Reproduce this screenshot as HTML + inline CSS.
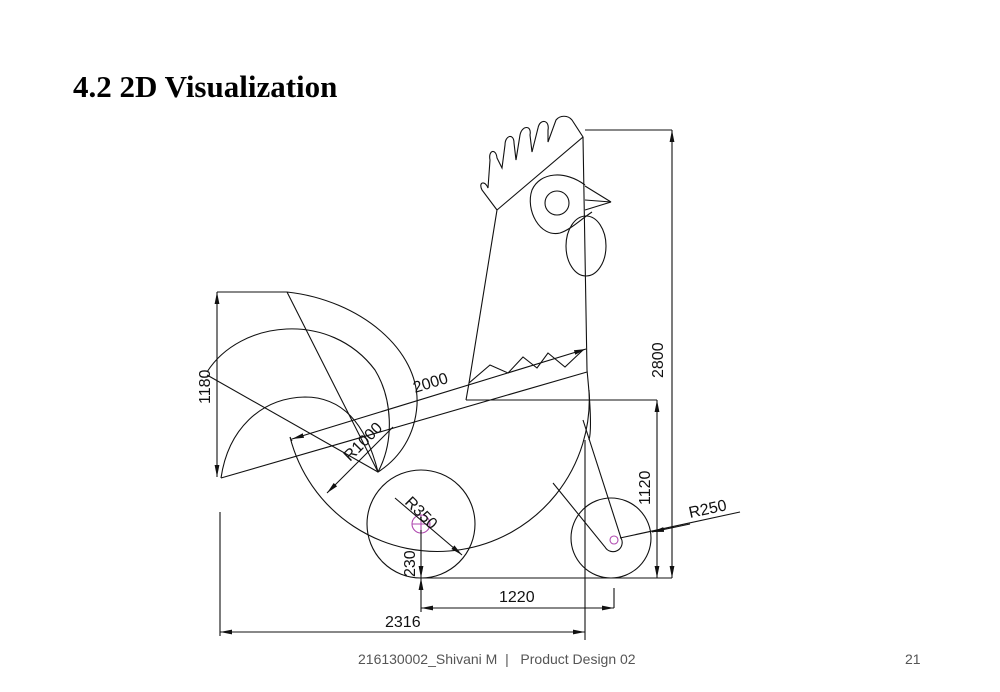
<!DOCTYPE html>
<html><head><meta charset="utf-8"><style>
html,body{margin:0;padding:0;background:#fff;width:1000px;height:692px;overflow:hidden}
.t{position:absolute;left:73px;top:69px;font:bold 31px "Liberation Serif",serif;color:#000}
.f{position:absolute;top:651px;font:14px "Liberation Sans",sans-serif;color:#555}
svg{position:absolute;left:0;top:0}
</style></head><body>
<div class="t">4.2 2D Visualization</div>
<div class="f" style="left:358px">216130002_Shivani M &nbsp;| &nbsp; Product Design 02</div>
<div class="f" style="left:905px">21</div>
<svg width="1000" height="692" viewBox="0 0 1000 692" fill="none" stroke="#111" stroke-width="1.1">
<defs><marker id="a" viewBox="0 0 12 6" refX="12" refY="3" markerWidth="12" markerHeight="6" orient="auto-start-reverse" markerUnits="userSpaceOnUse"><path d="M0,0.6L12,3L0,5.4z" fill="#111" stroke="none"/></marker></defs>
<!-- comb -->
<path d="M497,210 L583,137 L572,120 M497,210 L482,190 C478,182 485,180 488,188 L490,160 C488,150 496,148 497,158 L502,168 L505,145 C505,135 514,133 514,143 L516,160 L520,135 C522,125 532,125 530,135 L532,152 L538,128 C540,118 550,120 548,130 L548,142 L556,120 C560,115 568,115 572,120"/>
<!-- neck -->
<path d="M497,210 L469,383 L466,400"/>
<path d="M583,137 L587,370 C590,400 592,430 589,440"/>
<!-- eye teardrop -->
<path d="M585,185 C565,170 540,172 532,190 C525,210 540,238 560,233 C570,230 580,220 592,212"/>
<circle cx="557" cy="203" r="12"/>
<path d="M585,200 L611,202 L585,210" />
<path d="M585,186 L611,202"/>
<ellipse cx="586" cy="246" rx="20" ry="30"/>
<!-- zigzag -->
<path d="M469,383 L490,365 L508,373 L523,357 L537,368 L548,353 L565,367 L583,350"/>
<!-- 2000 dim -->
<line x1="292" y1="439" x2="586" y2="349" marker-start="url(#a)" marker-end="url(#a)"/>
<line x1="221" y1="478" x2="587" y2="372"/>
<!-- tail -->
<path d="M287,292 C360,300 420,350 417,405 C415,435 400,458 378,472 L287,292"/>
<path d="M207,372 C240,320 330,310 375,370 C392,398 395,440 378,472"/>
<path d="M221,478 C228,430 260,398 305,397 C340,397 365,420 378,472"/>
<line x1="207" y1="375" x2="378" y2="472"/>
<!-- body arc -->
<path d="M292,441 L290,437 M290,437 A152,152 0 0 0 589,390"/>
<!-- R1000 leader -->
<line x1="393" y1="427" x2="327" y2="493" marker-end="url(#a)"/>
<!-- horizontal 1120 ext -->
<line x1="466" y1="400" x2="657" y2="400"/>
<!-- front wheel -->
<circle cx="421" cy="524" r="54"/>
<circle cx="421" cy="524" r="9" stroke="#b04ab0"/>
<line x1="412" y1="524" x2="430" y2="524" stroke="#b04ab0"/>
<line x1="421" y1="515" x2="421" y2="533" stroke="#b04ab0"/>
<line x1="395" y1="498" x2="462" y2="555" marker-end="url(#a)"/>
<!-- leg and rear wheel -->
<circle cx="611" cy="538" r="40"/>
<circle cx="614" cy="540" r="4" stroke="#b04ab0"/>
<path d="M583,420 L621,538 A9,9 0 0 1 605,547 L553,483"/>
<line x1="740" y1="512" x2="620" y2="538"/>
<line x1="690" y1="524" x2="652" y2="532" marker-end="url(#a)"/>
<!-- dims -->
<path d="M585,130 L672,130"/>
<line x1="672" y1="130" x2="672" y2="578" marker-start="url(#a)" marker-end="url(#a)"/>
<line x1="657" y1="400" x2="657" y2="578" marker-start="url(#a)" marker-end="url(#a)"/>
<line x1="421" y1="578" x2="672" y2="578"/>
<line x1="421" y1="530" x2="421" y2="578" marker-end="url(#a)"/>
<line x1="421" y1="612" x2="421" y2="578" marker-end="url(#a)"/>
<line x1="421" y1="608" x2="614" y2="608" marker-start="url(#a)" marker-end="url(#a)"/>
<line x1="614" y1="588" x2="614" y2="608"/>
<line x1="220" y1="632" x2="585" y2="632" marker-start="url(#a)" marker-end="url(#a)"/>
<line x1="220" y1="512" x2="220" y2="636"/>
<line x1="585" y1="440" x2="585" y2="640"/>
<line x1="217" y1="292" x2="287" y2="292"/>
<line x1="217" y1="292" x2="217" y2="477" marker-start="url(#a)" marker-end="url(#a)"/>
<g fill="#111" stroke="none" font-family="Liberation Sans, sans-serif" font-size="16">
<text transform="translate(210,404) rotate(-90)">1180</text>
<text transform="translate(415,393) rotate(-17)">2000</text>
<text transform="translate(350,462) rotate(-45)">R1000</text>
<text transform="translate(404,503) rotate(45)">R350</text>
<text transform="translate(415,577) rotate(-90)">230</text>
<text transform="translate(663,378) rotate(-90)">2800</text>
<text transform="translate(650,505) rotate(-90)">1120</text>
<text transform="translate(690,518) rotate(-12)">R250</text>
<text x="499" y="602">1220</text>
<text x="385" y="627">2316</text>
</g>
</svg>
</body></html>
